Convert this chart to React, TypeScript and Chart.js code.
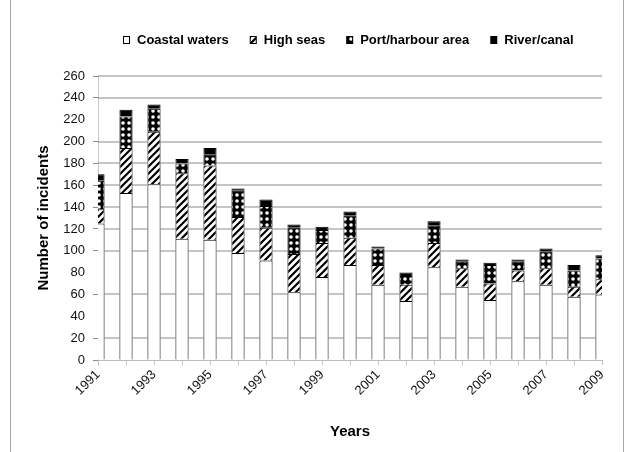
import React, { useEffect, useRef } from 'react';
import { Chart, registerables } from 'chart.js';

Chart.register(...registerables);

const years = ['1991','1992','1993','1994','1995','1996','1997','1998','1999','2000','2001','2002','2003','2004','2005','2006','2007','2008','2009'];
const coastalWaters = [125,153,161,111,110,98,91,62,76,87,69,54,85,67,55,72,69,58,60];
const highSeas = [13,41,48,60,68,33,30,35,31,25,18,15,22,17,15,10,15,9,14];
const portHarbour = [26,29,21,9,10,24,20,24,12,20,15,8,16,6,17,8,15,15,19];
const riverCanal = [6,6,4,4,6,2,6,3,3,4,2,3,4,2,2,2,3,5,3];
const seriesNames = ['Coastal waters', 'High seas', 'Port/harbour area', 'River/canal'];
const yTitle = 'Number of incidents';
const xTitle = 'Years';
const yTicks = [0,20,40,60,80,100,120,140,160,180,200,220,240,260];
const hiddenGrid = [220, 80, 40];

const FONT = '"Liberation Sans", Arial, sans-serif';
const GRID = '#8a8a8a';

function hatchPattern(): CanvasPattern | string {
  const c = document.createElement('canvas');
  const s = 7;
  c.width = s; c.height = s;
  const ctx = c.getContext('2d');
  if (!ctx) return '#888';
  ctx.fillStyle = '#fff';
  ctx.fillRect(0, 0, s, s);
  ctx.strokeStyle = '#000';
  ctx.lineWidth = 2.2;
  ctx.beginPath();
  ctx.moveTo(-2, s + 2); ctx.lineTo(s + 2, -2);
  ctx.moveTo(-s / 2 - 1, s / 2 + 1); ctx.lineTo(s / 2 + 1, -s / 2 - 1);
  ctx.moveTo(s / 2 - 1, s * 1.5 + 1); ctx.lineTo(s * 1.5 + 1, s / 2 - 1);
  ctx.stroke();
  return ctx.createPattern(c, 'repeat') || '#888';
}

function dotPattern(): CanvasPattern | string {
  const c = document.createElement('canvas');
  const s = 6;
  c.width = s; c.height = s;
  const ctx = c.getContext('2d');
  if (!ctx) return '#444';
  ctx.fillStyle = '#000';
  ctx.fillRect(0, 0, s, s);
  ctx.fillStyle = '#fff';
  ctx.beginPath();
  ctx.arc(3, 3, 1.8, 0, Math.PI * 2);
  ctx.fill();
  return ctx.createPattern(c, 'repeat') || '#444';
}

// horizontal gridlines, drawn only where no bar stands in front of them
const gridPlugin = {
  id: 'underGrid',
  beforeDatasetsDraw(chart: any) {
    const { ctx, chartArea } = chart;
    const y = chart.scales.y;
    const meta = chart.getDatasetMeta(0);
    const totals = years.map((_, i) => coastalWaters[i] + highSeas[i] + portHarbour[i] + riverCanal[i]);
    const spans = meta.data.map((el: any, i: number) => {
      const p = el.getProps(['x', 'width'], true);
      return { a: p.x - p.width / 2, b: p.x + p.width / 2, i };
    });
    ctx.save();
    ctx.fillStyle = GRID;
    yTicks.forEach((v) => {
      if (v === 0 || hiddenGrid.includes(v)) return;
      const py = Math.round(y.getPixelForValue(v)) - 0.5;
      let start = chartArea.left;
      spans.forEach((s: any) => {
        if (totals[s.i] >= v) {
          if (s.a > start) ctx.fillRect(start, py, s.a - start, 1);
          start = Math.max(start, s.b);
        }
      });
      if (start < chartArea.right) ctx.fillRect(start, py, chartArea.right - start, 1);
    });
    ctx.restore();
  },
};

const legendPlugin = {
  id: 'customLegend',
  afterDraw(chart: any) {
    const ctx = chart.ctx as CanvasRenderingContext2D;
    ctx.save();
    ctx.font = 'bold 13px ' + FONT;
    ctx.textBaseline = 'middle';
    let x = 123;
    const y = 40;
    chart.data.datasets.forEach((ds: any) => {
      ctx.fillStyle = '#000';
      ctx.fillRect(x, y - 4, 7, 8);
      ctx.fillStyle = ds.backgroundColor;
      ctx.fillRect(x + 1, y - 3, 5, 6);
      ctx.fillStyle = '#000';
      ctx.fillText(ds.label, x + 14, y);
      x += 14 + ctx.measureText(ds.label).width + 21;
    });
    ctx.restore();
  },
};

export default function App() {
  const ref = useRef<HTMLCanvasElement | null>(null);

  useEffect(() => {
    if (!ref.current) return;
    const fills = ['#ffffff', hatchPattern(), dotPattern(), '#000000'];
    const values = [coastalWaters, highSeas, portHarbour, riverCanal];
    const tickWidths = yTicks.map((v) => (hiddenGrid.includes(v) ? 0 : 1));
    const chart = new Chart(ref.current, {
      type: 'bar',
      data: {
        labels: years,
        datasets: seriesNames.map((name, i) => ({
          label: name,
          data: values[i],
          backgroundColor: fills[i] as any,
          borderColor: '#000',
          borderWidth: 1,
          barPercentage: 0.94,
          categoryPercentage: 0.5,
          clip: 0 as any,
        })),
      },
      options: {
        responsive: false,
        animation: false,
        layout: { padding: { left: 0, right: 23, top: 76, bottom: 7 } },
        plugins: {
          legend: { display: false },
          tooltip: { enabled: false },
        },
        scales: {
          x: {
            stacked: true,
            offset: false,
            grid: { offset: false, drawOnChartArea: false, drawTicks: true, tickLength: 5, color: '#c4c4c4' },
            border: { color: '#bdbdbd' },
            ticks: {
              autoSkip: false,
              minRotation: 45,
              maxRotation: 45,
              padding: 2,
              color: '#111',
              font: { family: FONT, size: 13 },
              callback: function (this: any, value: any, index: number) {
                return index % 2 === 0 ? this.getLabelForValue(value) : '';
              },
            },
            title: {
              display: true,
              text: xTitle,
              color: '#000',
              font: { family: FONT, size: 15, weight: 'bold' },
              padding: { top: 4, bottom: 4 },
            },
            afterFit: (s: any) => { s.height = 452 - 360 - 7; },
          },
          y: {
            stacked: true,
            min: 0,
            max: 260,
            ticks: {
              stepSize: 20,
              padding: 8,
              color: '#111',
              font: { family: FONT, size: 13 },
            },
            grid: {
              drawOnChartArea: false,
              drawTicks: true,
              tickLength: 5,
              color: GRID,
              lineWidth: tickWidths,
            },
            border: { color: '#c8c8c8' },
            title: {
              display: true,
              text: yTitle,
              color: '#000',
              font: { family: FONT, size: 15, weight: 'bold' },
              padding: { top: 35, bottom: 4 },
            },
            afterFit: (s: any) => { s.width = 98; },
          },
        },
      },
      plugins: [gridPlugin, legendPlugin],
    });
    return () => chart.destroy();
  }, []);

  return (
    <div style={{ position: 'absolute', left: 0, top: 0, width: 625, height: 452, background: '#fff', overflow: 'hidden' }}>
      <div style={{ position: 'absolute', left: 10, top: -2, width: 612, height: 460, border: '1px solid #a8a8a8' }} />
      <canvas ref={ref} width={625} height={452} style={{ position: 'absolute', left: 0, top: 0 }} />
    </div>
  );
}
